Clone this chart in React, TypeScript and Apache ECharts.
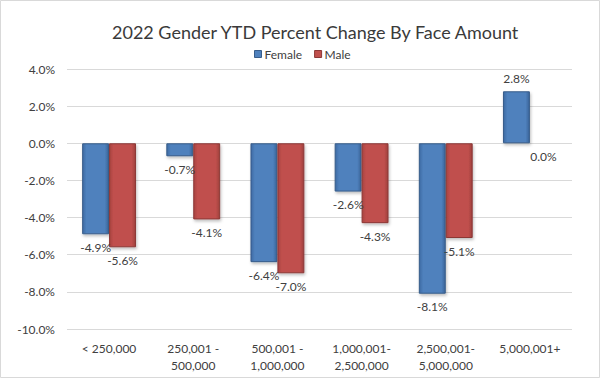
import React, { useEffect, useRef } from "react";
import * as echarts from "echarts";

const categories = ["< 250,000", "250,001 -\n500,000", "500,001 -\n1,000,000", "1,000,001-\n2,500,000", "2,500,001-\n5,000,000", "5,000,001+"];
const femaleValues = [-4.9, -0.7, -6.4, -2.6, -8.1, 2.8];
const maleValues = [-5.6, -4.1, -7.0, -4.3, -5.1, 0.0];
const yTicks = { min: -10, max: 4, interval: 2 };

const FONT = "Lato, 'Open Sans', sans-serif";
const TXT = "#404040";

function barGrad(edge: string, mid: string, edge2: string) {
  return new echarts.graphic.LinearGradient(0, 0, 1, 0, [
    { offset: 0, color: edge },
    { offset: 0.15, color: mid },
    { offset: 0.85, color: mid },
    { offset: 1, color: edge2 },
  ]);
}

function makeData(vals: number[]) {
  return vals.map((v) => ({
    value: v,
    label: { position: v > 0 ? "top" : "bottom" },
  }));
}

export default function App() {
  const ref = useRef<HTMLDivElement>(null);
  useEffect(() => {
    document.body.style.margin = "0";
    const chart = echarts.init(ref.current!, null, { renderer: "svg" });
    const labelCommon = {
      show: true,
      formatter: (p: any) => Number(p.value).toFixed(1) + "%",
      color: TXT,
      fontSize: 12,
      fontFamily: FONT,
      distance: 7,
    };
    chart.setOption({
      animation: false,
      backgroundColor: "#ffffff",
      textStyle: { fontFamily: FONT },
      title: {
        text: "2022 Gender YTD Percent Change By Face Amount",
        left: 107,
        top: 18,
        textStyle: { fontSize: 18, fontWeight: "normal", color: "#3a3a3a", fontFamily: FONT },
      },
      legend: {
        top: 43,
        left: 249,
        itemWidth: 7,
        itemHeight: 7,
        itemGap: 12,
        textStyle: { fontSize: 12, color: TXT, fontFamily: FONT, padding: [0, 0, 0, -2] },
        data: [
          { name: "Female", icon: "rect", itemStyle: { color: "#4f81bd", borderColor: "#385d8a", borderWidth: 1 } },
          { name: "Male", icon: "rect", itemStyle: { color: "#c0504d", borderColor: "#8c3836", borderWidth: 1 } },
        ],
      },
      grid: { left: 67, right: 28, top: 69, bottom: 49, containLabel: false },
      xAxis: {
        type: "category",
        data: categories,
        axisLine: { show: false, onZero: false },
        axisTick: { show: false },
        axisLabel: { color: TXT, fontSize: 12, fontFamily: FONT, margin: 11, lineHeight: 17, interval: 0 },
      },
      yAxis: {
        type: "value",
        min: yTicks.min,
        max: yTicks.max,
        interval: yTicks.interval,
        axisLine: { show: false },
        axisTick: { show: false },
        splitLine: { lineStyle: { color: "#d9d9d9", width: 1 } },
        axisLabel: {
          color: TXT,
          fontSize: 12,
          fontFamily: FONT,
          margin: 12,
          formatter: (v: number) => v.toFixed(1) + "%",
        },
      },
      series: [
        {
          name: "Female",
          type: "bar",
          data: makeData(femaleValues),
          barGap: "0%",
          barCategoryGap: "36%",
          itemStyle: {
            color: barGrad("#3d6aa3", "#4f81bd", "#3a6499"),
            borderColor: "#385d8a",
            borderWidth: 1,
            shadowColor: "rgba(0,0,0,0.25)",
            shadowBlur: 3,
            shadowOffsetX: 1,
            shadowOffsetY: 2,
          },
          label: labelCommon,
        },
        {
          name: "Male",
          type: "bar",
          data: makeData(maleValues),
          barGap: "0%",
          barCategoryGap: "36%",
          itemStyle: {
            color: barGrad("#a84340", "#c0504d", "#9e3f3c"),
            borderColor: "#8c3836",
            borderWidth: 1,
            shadowColor: "rgba(0,0,0,0.25)",
            shadowBlur: 3,
            shadowOffsetX: 1,
            shadowOffsetY: 2,
          },
          label: labelCommon,
        },
      ],
      graphic: [
        {
          type: "rect",
          shape: { x: 0.5, y: 0.5, width: 599, height: 377 },
          style: { fill: "none", stroke: "#d9d9d9", lineWidth: 1 },
          silent: true,
        },
      ],
    });
    return () => chart.dispose();
  }, []);
  return <div ref={ref} style={{ width: 600, height: 378 }} />;
}
